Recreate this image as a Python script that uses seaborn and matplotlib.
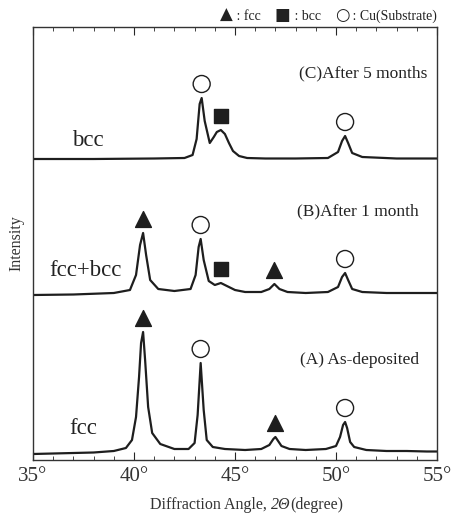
import numpy as np
import pandas as pd
import matplotlib
matplotlib.use('Agg')
import matplotlib.pyplot as plt
import seaborn as sns
from matplotlib.ticker import MultipleLocator
from matplotlib.offsetbox import TextArea, HPacker, AnchoredOffsetbox

# XRD traces (2theta in degrees, intensity in arbitrary units above each baseline)
a_x = [35, 36, 37, 38, 39, 39.6, 39.9, 40.1, 40.25, 40.35, 40.45, 40.55, 40.7, 40.9, 41.3, 42,
       42.7, 43.0, 43.15, 43.3, 43.45, 43.6, 43.9, 44.5, 45.5, 46.3, 46.7, 46.9, 47.0, 47.1, 47.3,
       47.7, 48.5, 49.5, 50.0, 50.2, 50.35, 50.45, 50.55, 50.7, 50.9, 51.5, 52.5, 53.5, 54.5, 55]
a_y = [1, 1.5, 2, 2.5, 4, 7, 15, 38, 78, 112, 123, 95, 48, 22, 11, 6,
       6, 12, 40, 92, 45, 15, 8, 6, 5, 6, 10, 16, 18, 15, 9,
       6, 5, 6, 9, 18, 30, 33, 27, 13, 8, 5, 4, 4, 3.5, 3.5]

b_x = [35, 37, 39, 39.8, 40.1, 40.3, 40.45, 40.6, 40.8, 41.2, 42, 42.8, 43.05, 43.2, 43.3, 43.45,
       43.7, 44.0, 44.3, 44.6, 45.0, 45.5, 46.3, 46.7, 46.95, 47.2, 47.6, 48.5, 49.6, 50.1, 50.3,
       50.45, 50.6, 50.8, 51.3, 52.5, 55]
b_y = [0, 0.5, 2, 5, 20, 50, 62, 40, 15, 6, 4, 6, 20, 48, 56, 35,
       14, 10, 12, 9, 5, 3, 3, 6, 11, 6, 3, 2, 3, 8, 18,
       22, 15, 6, 3, 2, 2]

c_x = [35, 38, 41, 42.5, 42.9, 43.1, 43.25, 43.35, 43.5, 43.75, 43.95, 44.1, 44.3, 44.5, 44.7,
       44.9, 45.2, 45.6, 46.5, 48, 49.6, 50.1, 50.3, 50.45, 50.6, 50.8, 51.3, 53, 55]
c_y = [0, 0, 0.5, 1, 4, 20, 55, 61, 38, 16, 22, 27, 29, 25, 16,
       8, 3, 1, 0.5, 0.5, 1, 7, 18, 23, 16, 6, 2, 0.5, 0.5]

# peak assignments per trace
a_fcc = [40.45, 47.0]
a_cu = [43.3, 50.45]
b_fcc = [40.45, 46.95]
b_bcc = [44.3]
b_cu = [43.3, 50.45]
c_bcc = [44.3]
c_cu = [43.35, 50.45]

traces = [
    ('A', a_x, a_y, 5, 'fcc', '(A) As-deposited'),
    ('B', b_x, b_y, 165, 'fcc+bcc', '(B)After 1 month'),
    ('C', c_x, c_y, 301, 'bcc', '(C)After 5 months'),
]
phase_marks = {
    'A': {'fcc': a_fcc, 'bcc': [], 'cu': a_cu},
    'B': {'fcc': b_fcc, 'bcc': b_bcc, 'cu': b_cu},
    'C': {'fcc': [], 'bcc': c_bcc, 'cu': c_cu},
}

sns.set_style('ticks')
serif = ['Liberation Serif', 'DejaVu Serif', 'DejaVu Sans']
plt.rcParams['font.family'] = serif

ink = '#1e1e1e'
fig = plt.figure(figsize=(4.54, 5.18), dpi=100)
ax = fig.add_axes([33/454, 58/518, 404/454, 433/518])

rows = []
for name, xs, ys, off, _, _ in traces:
    for x, y in zip(xs, ys):
        rows.append({'angle': x, 'intensity': y + off, 'sample': name})
df = pd.DataFrame(rows)
sns.lineplot(data=df, x='angle', y='intensity', units='sample', estimator=None,
             color=ink, lw=1.6, ax=ax, legend=False)

gap = 14
for name, xs, ys, off, lab, title in traces:
    m = phase_marks[name]
    for key, marker, fc, s in [('fcc', '^', ink, 130), ('bcc', 's', ink, 115),
                               ('cu', 'o', 'none', 150)]:
        if not m[key]:
            continue
        px = np.array(m[key])
        py = np.interp(px, xs, ys) + off + gap
        ax.scatter(px, py, marker=marker, s=s, facecolors=fc, edgecolors=ink,
                   linewidths=1.0, zorder=3)

# labels
ax.text(0.135, 0.739, 'bcc', transform=ax.transAxes, fontsize=16.5, ha='center', va='center', color='#222')
ax.text(0.129, 0.437, 'fcc+bcc', transform=ax.transAxes, fontsize=16.5, ha='center', va='center', color='#222')
ax.text(0.124, 0.072, 'fcc', transform=ax.transAxes, fontsize=16.5, ha='center', va='center', color='#222')
ax.text(0.975, 0.892, '(C)After 5 months', transform=ax.transAxes, fontsize=12.5, ha='right', va='center', color='#222')
ax.text(0.955, 0.575, '(B)After 1 month', transform=ax.transAxes, fontsize=12.5, ha='right', va='center', color='#222')
ax.text(0.955, 0.231, '(A) As-deposited', transform=ax.transAxes, fontsize=12.5, ha='right', va='center', color='#222')

# phase key above the frame, larger glyphs
kt = dict(fontsize=10, color='#222', family=serif)
kg = dict(fontsize=12, color='#222', family=['DejaVu Sans'])
key_parts = [TextArea('\u25b2', textprops=kg), TextArea(' : fcc    ', textprops=kt),
             TextArea('\u25a0', textprops=kg), TextArea(' : bcc    ', textprops=kt),
             TextArea('\u25cb', textprops=kg), TextArea(' : Cu(Substrate)', textprops=kt)]
kbox = HPacker(children=key_parts, align='baseline', pad=0, sep=0)
fig.add_artist(AnchoredOffsetbox(loc='center right', child=kbox, bbox_to_anchor=(437/454, 1 - 15/518),
                                 bbox_transform=fig.transFigure, frameon=False, pad=0, borderpad=0))

ax.set_xlim(35, 55)
ax.set_ylim(0, 433)
ax.set_yticks([])
ax.xaxis.set_minor_locator(MultipleLocator(1))
ax.set_xticks([35, 40, 45, 50, 55])
ax.set_xticklabels(['35\u00b0', '40\u00b0', '45\u00b0', '50\u00b0', '55\u00b0'])
ax.tick_params(axis='x', which='major', direction='in', length=6, width=0.8, top=True,
               labelsize=15, labelcolor='#333', pad=5)
ax.tick_params(axis='x', which='minor', direction='in', length=3, width=0.6, top=True)
for sp in ax.spines.values():
    sp.set_visible(True)
    sp.set_color('#333')
    sp.set_linewidth(1.0)

# x label with italic 2Θ
tp = dict(fontsize=11.5, color='#333', family=serif)
parts = [TextArea('Diffraction Angle, ', textprops=tp),
         TextArea('2\u0398', textprops=dict(tp, style='italic')),
         TextArea('(degree)', textprops=tp)]
box = HPacker(children=parts, align='baseline', pad=0, sep=0)
fig.add_artist(AnchoredOffsetbox(loc='center', child=box, bbox_to_anchor=(247/454, 1 - 505/518),
                                 bbox_transform=fig.transFigure, frameon=False, pad=0, borderpad=0))
ax.set_xlabel('')
ax.set_ylabel('Intensity', fontsize=11.5, color='#333', labelpad=6)

plt.savefig('out.png', dpi=100)
plt.close()
